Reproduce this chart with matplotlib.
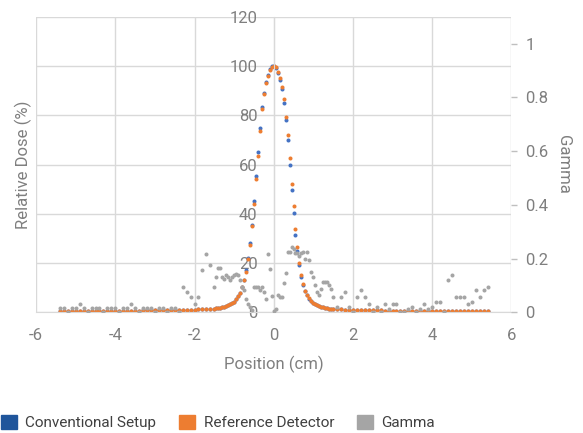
import matplotlib.pyplot as plt
from matplotlib.patches import Patch

plt.rcParams['font.family'] = ['Roboto', 'DejaVu Sans']
plt.rcParams['axes.unicode_minus'] = False

# position grid (cm): 0.1 steps in tails, 0.05 steps in centre
x_left = [-5.4, -5.3, -5.2, -5.1, -5.0, -4.9, -4.8, -4.7, -4.6, -4.5,
          -4.4, -4.3, -4.2, -4.1, -4.0, -3.9, -3.8, -3.7, -3.6, -3.5,
          -3.4, -3.3, -3.2, -3.1, -3.0, -2.9, -2.8, -2.7, -2.6, -2.5,
          -2.4, -2.3, -2.2, -2.1, -2.0, -1.9, -1.8, -1.7, -1.6]
x_mid = [-1.5, -1.45, -1.4, -1.35, -1.3, -1.25, -1.2, -1.15, -1.1, -1.05,
         -1.0, -0.95, -0.9, -0.85, -0.8, -0.75, -0.7, -0.65, -0.6, -0.55,
         -0.5, -0.45, -0.4, -0.35, -0.3, -0.25, -0.2, -0.15, -0.1, -0.05,
         0.0, 0.05, 0.1, 0.15, 0.2, 0.25, 0.3, 0.35, 0.4, 0.45,
         0.5, 0.55, 0.6, 0.65, 0.7, 0.75, 0.8, 0.85, 0.9, 0.95,
         1.0, 1.05, 1.1, 1.15, 1.2, 1.25, 1.3, 1.35, 1.4, 1.45, 1.5]
x_right = [1.6, 1.7, 1.8, 1.9, 2.0, 2.1, 2.2, 2.3, 2.4, 2.5,
           2.6, 2.7, 2.8, 2.9, 3.0, 3.1, 3.2, 3.3, 3.4, 3.5,
           3.6, 3.7, 3.8, 3.9, 4.0, 4.1, 4.2, 4.3, 4.4, 4.5,
           4.6, 4.7, 4.8, 4.9, 5.0, 5.1, 5.2, 5.3, 5.4]
position = x_left + x_mid + x_right

ref_left = [0.4, 0.4, 0.4, 0.4, 0.4, 0.5, 0.5, 0.5, 0.5, 0.5,
            0.5, 0.5, 0.5, 0.5, 0.6, 0.6, 0.6, 0.6, 0.6, 0.6,
            0.6, 0.7, 0.7, 0.7, 0.7, 0.7, 0.8, 0.8, 0.8, 0.8,
            0.9, 0.9, 0.9, 1.0, 1.0, 1.1, 1.1, 1.2, 1.3]
ref_mid = [1.5, 1.6, 1.8, 1.9, 2.1, 2.3, 2.6, 2.9, 3.2, 3.7,
           4.3, 5.2, 6.4, 8.0, 10.2, 13.0, 16.5, 21.5, 27.5, 35.0,
           44.0, 54.0, 63.5, 73.5, 82.5, 88.5, 93.0, 96.0, 98.5, 99.8,
           100.0, 99.5, 97.8, 95.0, 91.5, 86.5, 79.5, 72.0, 62.5, 52.0,
           43.0, 34.0, 26.5, 20.0, 15.0, 11.5, 8.8, 7.0, 5.6, 4.6,
           3.9, 3.3, 2.9, 2.5, 2.2, 2.0, 1.8, 1.6, 1.5, 1.4, 1.3]
ref_right = [1.2, 1.1, 1.0, 1.0, 0.9, 0.9, 0.8, 0.8, 0.8, 0.7,
             0.7, 0.7, 0.6, 0.6, 0.6, 0.6, 0.6, 0.5, 0.5, 0.5,
             0.5, 0.5, 0.5, 0.5, 0.4, 0.4, 0.4, 0.4, 0.4, 0.4,
             0.4, 0.4, 0.4, 0.4, 0.4, 0.3, 0.3, 0.3, 0.3]
reference = ref_left + ref_mid + ref_right

conv_mid = [1.5, 1.6, 1.8, 1.9, 2.1, 2.3, 2.6, 2.9, 3.2, 3.7,
            4.3, 5.2, 6.4, 8.0, 10.2, 13.2, 17.0, 22.0, 28.0, 35.5,
            45.0, 55.5, 65.0, 75.0, 83.5, 89.0, 93.5, 96.5, 98.8, 99.9,
            100.0, 99.3, 97.3, 94.5, 90.5, 85.0, 78.0, 70.0, 60.0, 49.5,
            40.5, 31.5, 25.0, 19.0, 14.5, 11.0, 8.5, 6.8, 5.5, 4.5,
            3.8, 3.3, 2.9, 2.5, 2.2, 2.0, 1.8, 1.6, 1.5, 1.4, 1.3]
conventional = ref_left + conv_mid + ref_right

gam_left = [0.015, 0.015, 0.0, 0.015, 0.015, 0.03, 0.015, 0.0, 0.015, 0.015,
            0.015, 0.0, 0.015, 0.015, 0.015, 0.0, 0.015, 0.015, 0.03, 0.015,
            0.0, 0.015, 0.015, 0.015, 0.0, 0.015, 0.015, 0.0, 0.015, 0.015,
            0.0, 0.094, 0.076, 0.057, 0.032, 0.057, 0.157, 0.216, 0.175]
gam_mid = [0.094, 0.132, 0.163, 0.163, 0.132, 0.125, 0.138, 0.132, 0.119, 0.132,
           0.138, 0.144, 0.138, 0.119, 0.094, 0.082, 0.051, 0.032, 0.019, 0.007,
           0.094, 0.094, 0.094, 0.082, 0.094, 0.076, 0.05, 0.216, 0.16, 0.06,
           0.006, 0.013, 0.063, 0.057, 0.057, 0.11, 0.145, 0.225, 0.225, 0.243,
           0.236, 0.22, 0.219, 0.21, 0.219, 0.225, 0.2, 0.225, 0.194, 0.15,
           0.132, 0.1, 0.076, 0.063, 0.088, 0.113, 0.113, 0.113, 0.1, 0.088, 0.057]
gam_right = [0.019, 0.057, 0.076, 0.019, 0.0, 0.057, 0.082, 0.057, 0.032, 0.0,
             0.019, 0.0, 0.032, 0.013, 0.032, 0.032, 0.0, 0.0, 0.013, 0.019,
             0.0, 0.013, 0.032, 0.013, 0.019, 0.038, 0.038, 0.0, 0.119, 0.138,
             0.057, 0.057, 0.057, 0.032, 0.038, 0.082, 0.057, 0.082, 0.094]
gamma = gam_left + gam_mid + gam_right

blue = '#4472C4'
orange = '#ED7D31'
grey = '#A5A5A5'
text_col = '#7F7F7F'

fig = plt.figure(figsize=(5.83, 4.33), dpi=100)
ax = fig.add_axes([0.062, 0.279, 0.815, 0.682])

ax.plot(position, conventional, 'o', color=blue, markersize=2.9, markeredgewidth=0)
ax.plot(position, reference, 'o', color=orange, markersize=2.9, markeredgewidth=0)

ax.set_xlim(-6, 6)
ax.set_ylim(0, 120)
ax.set_xticks([-6, -4, -2, 0, 2, 4, 6])
ax.set_yticks([0, 20, 40, 60, 80, 100, 120])
ax.grid(True, color='#D9D9D9', linewidth=1)
ax.set_axisbelow(True)
for s in ['top', 'right']:
    ax.spines[s].set_visible(False)
ax.spines['left'].set_position(('data', 0))
ax.spines['left'].set_color('#D9D9D9')
ax.spines['bottom'].set_color('#D9D9D9')
ax.tick_params(axis='y', length=0, pad=11.5, labelsize=12, labelcolor=text_col)
ax.tick_params(axis='x', length=0, pad=11.5, labelsize=12, labelcolor=text_col)

ax.set_xlabel('Position (cm)', fontsize=12, color=text_col, labelpad=9)
fig.text(0.040, 0.62, 'Relative Dose (%)', rotation=90, fontsize=12,
         color=text_col, ha='center', va='center')

ax2 = ax.twinx()
ax2.plot(position, gamma, 'o', color=grey, markersize=2.9, markeredgewidth=0)
ax2.set_ylim(0, 1.1)
ax2.set_yticks([0, 0.2, 0.4, 0.6, 0.8, 1.0])
ax2.set_yticklabels(['0', '0.2', '0.4', '0.6', '0.8', '1'])
for s in ['top', 'right', 'left', 'bottom']:
    ax2.spines[s].set_visible(False)
ax2.tick_params(axis='y', length=4.3, width=1, color='#BFBFBF', pad=6,
                labelsize=12, labelcolor=text_col)
ax2.set_ylabel('Gamma', rotation=270, fontsize=12, color=text_col, labelpad=16)

handles = [Patch(color='#1F559B'), Patch(color=orange), Patch(color=grey)]
labels = ['Conventional Setup', 'Reference Detector', 'Gamma']
fig.legend(handles, labels, loc='center left', bbox_to_anchor=(-0.022, 0.024),
           ncol=3, frameon=False, fontsize=11, handlelength=1.05, handleheight=1.05,
           handletextpad=0.55, columnspacing=1.5, labelcolor='#404040')

plt.savefig('out.png', dpi=100)
